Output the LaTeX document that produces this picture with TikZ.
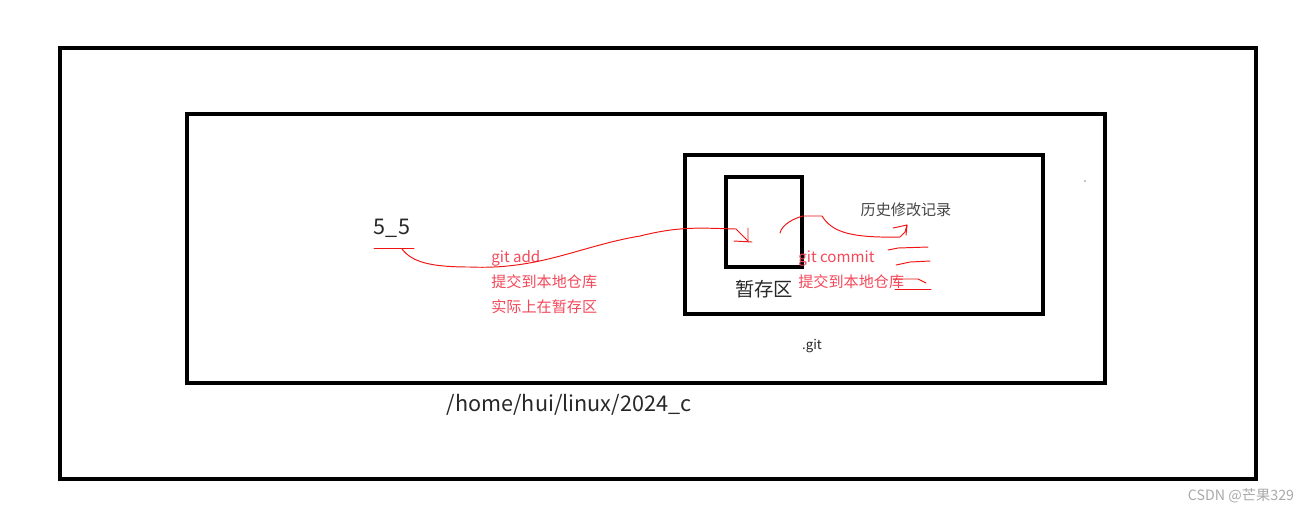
\documentclass[tikz,border=0pt]{standalone}
\usepackage{fontspec}
\setmainfont{Noto Sans CJK SC}
\definecolor{inkred}{RGB}{240,20,20}
\definecolor{txtred}{RGB}{244,72,90}
\definecolor{txtdark}{RGB}{40,40,40}
\definecolor{txtgray}{RGB}{70,70,70}
\definecolor{wmgray}{RGB}{170,170,170}
\begin{document}
\begin{tikzpicture}[x=0.02cm,y=-0.02cm,
  frame/.style={draw=black,line width=2.2pt},
  pen/.style={draw=inkred,line width=0.55pt,line cap=round,line join=round},
  redtxt/.style={text=txtred,font=\fontsize{8.6}{10}\selectfont,inner sep=0pt},
  darktxt/.style={text=txtdark,inner sep=0pt}]
\useasboundingbox (0,0) rectangle (1311,512);
\fill[white] (0,0) rectangle (1311,512);
% frames
\draw[frame] (60,48) rectangle (1256,479);
\draw[frame] (187,114) rectangle (1105,383);
\draw[frame] (685,155) rectangle (1043,314);
\draw[frame] (726,177) rectangle (802,267);
% texts
\node[darktxt,font=\fontsize{12.3}{15}\selectfont] (src) at (392,228) {5\_5};
\node[darktxt,font=\fontsize{11}{13}\selectfont] (stage) at (764,289) {暂存区};
\node[text=txtgray,inner sep=0pt,font=\fontsize{8.6}{10}\selectfont] (hist) at (906,210) {历史修改记录};
\node[darktxt,font=\fontsize{7.5}{9}\selectfont] (gitdir) at (812,346) {.git};
\node[darktxt,font=\fontsize{12.3}{15}\selectfont] (path) at (569,405) {/home/hui/linux/2024\_c};
\node[redtxt,anchor=west] (add) at (491,258) {git add};
\node[redtxt,anchor=west] (add2) at (491,282) {提交到本地仓库};
\node[redtxt,anchor=west] (add3) at (491,307) {实际上在暂存区};
\node[redtxt,anchor=west] (commit) at (798,259) {git commit};
\node[redtxt,anchor=west] (commit2) at (798,282) {提交到本地仓库};
\node[text=wmgray,inner sep=0pt,font=\fontsize{8.1}{9}\selectfont] (wm) at (1241,496) {CSDN @芒果329};
\fill[black] (1085,181) circle (0.6);
% git add stroke
\coordinate (a0) at (374,248);
\coordinate (a1) at (414,248);
\draw[pen] (a0) -- (a1);
\coordinate (s0) at (402,249);
\coordinate (s1) at (470,267);
\coordinate (s2) at (640,236);
\coordinate (s3) at (736,229);
\coordinate (tip) at (748,241);
\draw[pen] (s0) .. controls (412,262) and (430,267) .. (s1)
  .. controls (540,270) and (580,246) .. (s2)
  .. controls (680,226) and (700,228) .. (s3) -- (tip);
\draw[pen] (748,228) -- (tip) (734,241) -- (752,242);
% git commit stroke
\coordinate (c0) at (780,233);
\coordinate (c1) at (803,216);
\coordinate (c2) at (822,216);
\coordinate (c3) at (900,237);
\coordinate (ctip) at (907,225);
\draw[pen] (c0) .. controls (782,224) and (795,218) .. (c1) -- (c2)
  .. controls (832,232) and (850,238) .. (c3) -- (905,232) -- (ctip);
\draw[pen] (893,228) -- (ctip) -- (906,235);
% scribble lines
\draw[pen] (888,250) -- (898,248) -- (928,247);
\draw[pen] (896,265) -- (910,262) -- (930,261);
\draw[pen] (893,279) -- (918,279) -- (926,283);
\draw[pen] (895,289) -- (931,289);
\end{tikzpicture}
\end{document}
